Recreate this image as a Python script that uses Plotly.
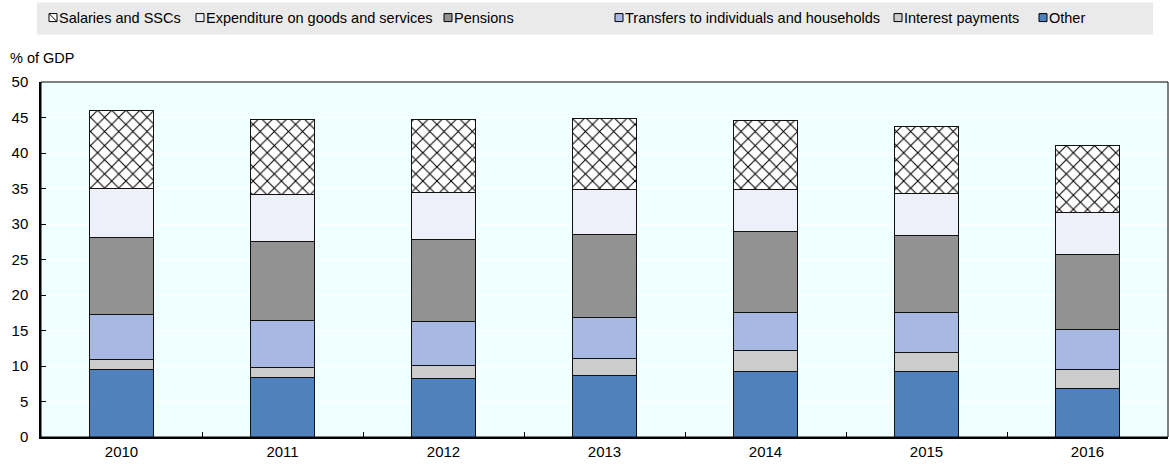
import plotly.graph_objects as go

# General government expenditure by economic category, % of GDP
years = ["2010", "2011", "2012", "2013", "2014", "2015", "2016"]

other = [9.5, 8.45, 8.3, 8.7, 9.2, 9.2, 6.8]
interest = [1.35, 1.4, 1.8, 2.35, 2.95, 2.75, 2.75]
transfers = [6.35, 6.5, 6.1, 5.75, 5.45, 5.65, 5.65]
pensions = [10.9, 11.2, 11.6, 11.7, 11.4, 10.75, 10.5]
goods = [6.9, 6.55, 6.6, 6.3, 5.9, 5.95, 5.85]
salaries = [11.0, 10.6, 10.3, 10.1, 9.65, 9.45, 9.5]

legend_names = [
    "Salaries and SSCs",
    "Expenditure on goods and services",
    "Pensions",
    "Transfers to individuals and households",
    "Interest payments",
    "Other",
]

y_ticks = [0, 5, 10, 15, 20, 25, 30, 35, 40, 45, 50]

FONT = "Liberation Sans, Arial, sans-serif"
W, H = 1169, 464
ML, MR, MT, MB = 41, 1, 81.5, 27
PW, PH = W - ML - MR, H - MT - MB

colors = {
    "Other": "#4F81BD",
    "Interest payments": "#CCCCCC",
    "Transfers to individuals and households": "#A7B9E3",
    "Pensions": "#929292",
    "Expenditure on goods and services": "#EDF0F8",
    "Salaries and SSCs": "#FFFFFF",
}

fig = go.Figure()

stack = [
    ("Other", other),
    ("Interest payments", interest),
    ("Transfers to individuals and households", transfers),
    ("Pensions", pensions),
    ("Expenditure on goods and services", goods),
    ("Salaries and SSCs", salaries),
]

for name, vals in stack:
    marker = dict(color=colors[name], line=dict(color="#111111", width=1))
    if name == "Salaries and SSCs":
        marker["pattern"] = dict(shape="x", size=10, solidity=0.2,
                                 fgcolor="#000000", bgcolor="#FFFFFF",
                                 fillmode="replace")
    fig.add_trace(go.Bar(x=years, y=vals, name=name, marker=marker,
                         width=0.4, showlegend=False))


def px_x(p):
    return (p - ML) / PW


def px_y(p):
    return (H - MB - p) / PH


shapes = []
annotations = []

# Legend band
shapes.append(dict(type="rect", xref="paper", yref="paper",
                   x0=px_x(37), x1=px_x(1153), y0=px_y(34), y1=px_y(2),
                   fillcolor="#EAEAEA", line=dict(width=0), layer="below"))

icon_x = [49, 196, 444, 615, 894, 1039]
icon_size = 8
icon_cy = 17
for name, ix in zip(legend_names, icon_x):
    y0, y1 = icon_cy + icon_size / 2, icon_cy - icon_size / 2
    shapes.append(dict(type="rect", xref="paper", yref="paper",
                       x0=px_x(ix), x1=px_x(ix + icon_size),
                       y0=px_y(y0), y1=px_y(y1),
                       fillcolor=colors[name], line=dict(color="#000000", width=1)))
    if name == "Salaries and SSCs":
        shapes.append(dict(type="line", xref="paper", yref="paper",
                           x0=px_x(ix), x1=px_x(ix + icon_size),
                           y0=px_y(y1), y1=px_y(y0),
                           line=dict(color="#000000", width=1)))
    annotations.append(dict(text=name, xref="paper", yref="paper",
                            x=px_x(ix + icon_size), y=px_y(icon_cy),
                            xanchor="left", yanchor="middle", showarrow=False,
                            font=dict(family=FONT, size=14.5, color="#000000")))

# Axis unit label
annotations.append(dict(text="% of GDP", xref="paper", yref="paper",
                        x=px_x(8), y=px_y(57), xanchor="left", yanchor="middle",
                        showarrow=False,
                        font=dict(family=FONT, size=14.5, color="#000000")))

# Plot frame
shapes.append(dict(type="rect", xref="paper", yref="paper", x0=0, x1=1, y0=0, y1=1,
                   line=dict(color="#000000", width=1), layer="above"))

fig.update_layout(
    width=W, height=H,
    margin=dict(l=ML, r=MR, t=MT, b=MB, pad=0),
    barmode="stack",
    bargap=0.6,
    paper_bgcolor="#FFFFFF",
    plot_bgcolor="#F0FFFF",
    font=dict(family=FONT, size=15, color="#000000"),
    shapes=shapes,
    annotations=annotations,
    showlegend=False,
)

fig.update_xaxes(
    type="category",
    showgrid=False,
    showline=True, linecolor="#000000", linewidth=1.5,
    ticks="inside", tickson="boundaries", ticklen=5, tickcolor="#000000",
    tickfont=dict(family=FONT, size=15, color="#000000"),
)

fig.update_yaxes(
    range=[0, 50],
    tickvals=y_ticks,
    showgrid=True, gridcolor="#FFFFFF", gridwidth=1,
    zeroline=False,
    showline=True, linecolor="#000000", linewidth=1.5,
    ticks="inside", ticklen=5, tickcolor="#000000",
    ticklabelstandoff=8,
    tickfont=dict(family=FONT, size=15, color="#000000"),
)

fig.write_html("out.html")
